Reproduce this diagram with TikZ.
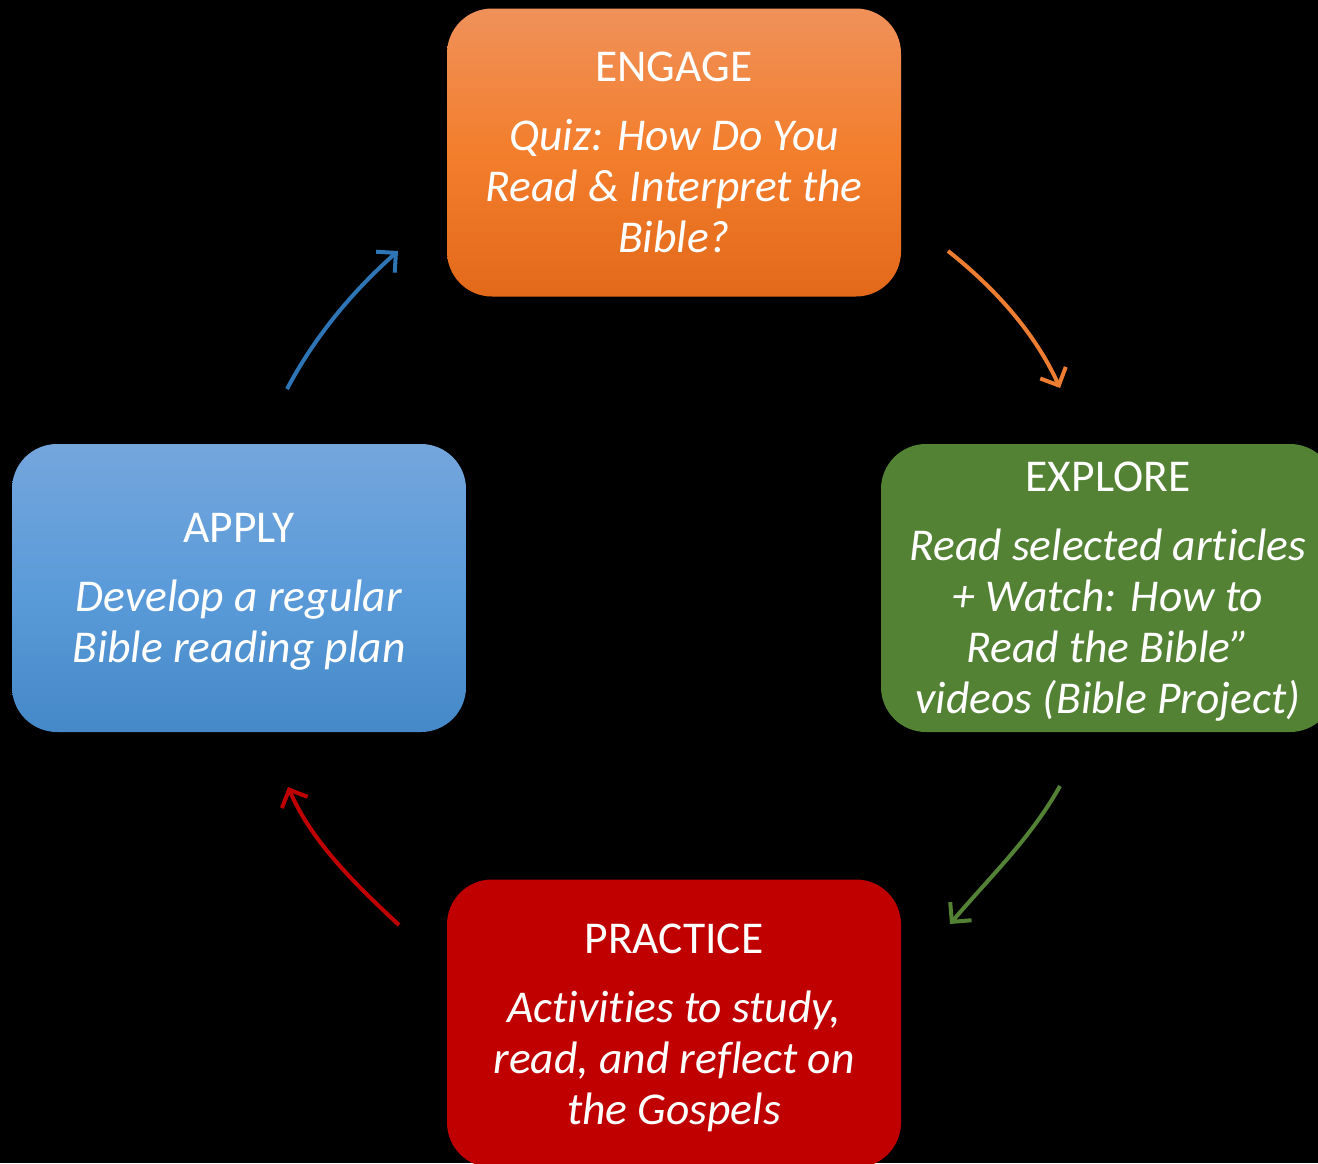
\documentclass[tikz,border=0pt]{standalone}
\usepackage{fontspec}
\setmainfont{Carlito}[Ligatures=NoCommon]
\usetikzlibrary{arrows.meta}
\definecolor{engT}{HTML}{F0915A}
\definecolor{engM}{HTML}{F37E2C}
\definecolor{engB}{HTML}{E2691A}
\definecolor{appT}{HTML}{74A6DC}
\definecolor{appM}{HTML}{5B9BD9}
\definecolor{appB}{HTML}{4589C8}
\definecolor{expC}{HTML}{548235}
\definecolor{praC}{HTML}{C00000}
\definecolor{arrO}{HTML}{ED7D31}
\definecolor{arrB}{HTML}{2E75B6}
\definecolor{arrR}{HTML}{C00000}
\definecolor{arrG}{HTML}{548235}
\begin{document}
\begin{tikzpicture}[x=1pt,y=-1pt,
  box/.style={rounded corners=45pt, minimum width=454pt, minimum height=288pt, inner sep=0pt},
  txt/.style={inner sep=0pt, align=center, text=white, font=\fontsize{45.5}{51}\selectfont},
  conn/.style={line width=4pt, -{Straight Barb[length=14pt,width=28pt]}}]
\fill[black] (0,0) rectangle (1318,1163);
\clip (0,0) rectangle (1318,1163);
\node[box, top color=engT, bottom color=engB, middle color=engM] (engage) at (674,152.5) {};
\node[txt] (engageT) at (engage.center)
  {ENGAGE\\[18pt]\textit{Quiz: How Do You}\\\textit{Read \& Interpret the}\\\textit{Bible?}};
\node[box, fill=expC] (explore) at (1108,588) {};
\node[txt] (exploreT) at ([yshift=-4pt]explore.center)
  {EXPLORE\\[18pt]\textit{Read selected articles}\\\textit{+ Watch: How to}\\\textit{Read the Bible”}\\\textit{videos (Bible Project)}};
\node[box, fill=praC] (practice) at (674,1023.5) {};
\node[txt] (practiceT) at ([yshift=-4pt]practice.center)
  {PRACTICE\\[18pt]\textit{Activities to study,}\\\textit{read, and reflect on}\\\textit{the Gospels}};
\node[box, top color=appT, bottom color=appB, middle color=appM] (apply) at (239,588) {};
\node[txt] (applyT) at ([yshift=-4pt]apply.center)
  {APPLY\\[18pt]\textit{Develop a regular}\\\textit{Bible reading plan}};
\coordinate (o1) at (948,251);  \coordinate (o2) at (1060,388);
\coordinate (g1) at (1060,786); \coordinate (g2) at (950,924);
\coordinate (r1) at (399,925);  \coordinate (r2) at (288,787);
\coordinate (b1) at (287,389);  \coordinate (b2) at (398,251);
\draw[conn, arrO] (o1) .. controls (995,288) and (1035,333) .. (o2);
\draw[conn, arrG] (g1) .. controls (1031,838) and (989,878) .. (g2);
\draw[conn, arrR] (r1) .. controls (355,884) and (312,842) .. (r2);
\draw[conn, arrB] (b1) .. controls (315,336) and (353,291) .. (b2);
\end{tikzpicture}
\end{document}
